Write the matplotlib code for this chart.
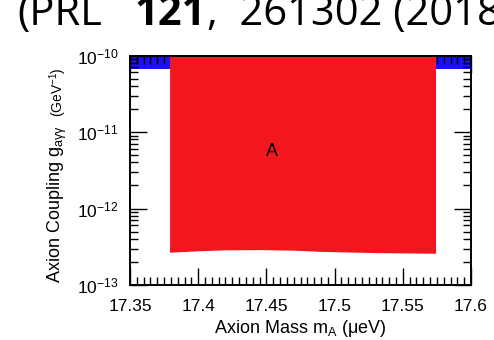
import numpy as np
import matplotlib
matplotlib.use('Agg')
import matplotlib.pyplot as plt
from matplotlib.ticker import MultipleLocator, LogLocator, NullFormatter

plt.rcParams['font.family'] = 'Liberation Sans'
plt.rcParams['mathtext.fontset'] = 'custom'
plt.rcParams['mathtext.rm'] = 'Liberation Sans'
plt.rcParams['mathtext.it'] = 'Liberation Sans:italic'
plt.rcParams['mathtext.bf'] = 'Liberation Sans:bold'

# excluded coupling (lower edge) vs axion mass, region A
mass_a = [17.379, 17.400, 17.420, 17.445, 17.470, 17.490, 17.530, 17.574]
limit_a = [2.68e-13, 2.80e-13, 2.88e-13, 2.90e-13, 2.85e-13, 2.75e-13, 2.65e-13, 2.60e-13]
# earlier exclusion band along the top
mass_prev = [17.35, 17.60]
limit_prev = [6.6e-11, 6.6e-11]

x_ticks = [17.35, 17.4, 17.45, 17.5, 17.55, 17.6]
x_labels = ['17.35', '17.4', '17.45', '17.5', '17.55', '17.6']
ymin, ymax = 1e-13, 1e-10

W, H = 494, 340
fig = plt.figure(figsize=(W / 100, H / 100), dpi=100)
ax = fig.add_axes([130 / W, 55 / H, 341 / W, 229.5 / H])

ax.fill_between(mass_prev, limit_prev, ymax, color='#1e10f4', lw=0, zorder=1)
ax.fill_between(mass_a, limit_a, ymax, color='#f2161f', lw=0, zorder=2)
ax.text(17.454, 5.5e-12, 'A', fontsize=13, ha='center', va='center', zorder=3)

ax.set_yscale('log')
ax.set_xlim(17.35, 17.6)
ax.set_ylim(ymin, ymax)
ax.set_xticks(x_ticks)
ax.set_xticklabels(x_labels)
ax.xaxis.set_minor_locator(MultipleLocator(0.005))
ax.yaxis.set_major_locator(LogLocator(base=10, numticks=10))
ax.yaxis.set_minor_locator(LogLocator(base=10, subs=np.arange(2, 10), numticks=20))
ax.yaxis.set_minor_formatter(NullFormatter())

ax.tick_params(which='both', direction='in', top=True, right=True, labelsize=12.5, width=1)
ax.tick_params(which='major', length=12, pad=8)
ax.tick_params(axis='x', which='major', pad=10)
ax.tick_params(which='minor', length=6)
for sp in ax.spines.values():
    sp.set_linewidth(1.4)
    sp.set_zorder(5)

ax.set_xlabel('Axion Mass m$_\\mathrm{A}$ (μeV)', fontsize=13, labelpad=3)

fig.canvas.draw()
r = fig.canvas.get_renderer()

# y label in two sizes, second part follows the first
yl = fig.text(57 / W, 1 - 283 / H, 'Axion Coupling g$_\\mathrm{a\\gamma\\gamma}$',
              rotation=90, fontsize=13, ha='center', va='bottom')
top = yl.get_window_extent(r).y1
fig.text(58 / W, (top + 8) / H, '(GeV$^\\mathrm{-1}$)',
         rotation=90, fontsize=10, ha='center', va='bottom')

# citation line above the plot, pieces chained left to right
ty = 1 - 25 / H
t1 = fig.text(17 / W, ty, '(PRL', family='Open Sans', fontsize=30, va='baseline')
t2 = fig.text(135 / W, ty, '121', family='Open Sans', fontweight='bold', fontsize=30,
              va='baseline')
x2 = t2.get_window_extent(r).x1
fig.text(x2 / W, ty, ',  261302 (2018))', family='Open Sans', fontsize=30, va='baseline')

fig.savefig('out.png', dpi=100)
